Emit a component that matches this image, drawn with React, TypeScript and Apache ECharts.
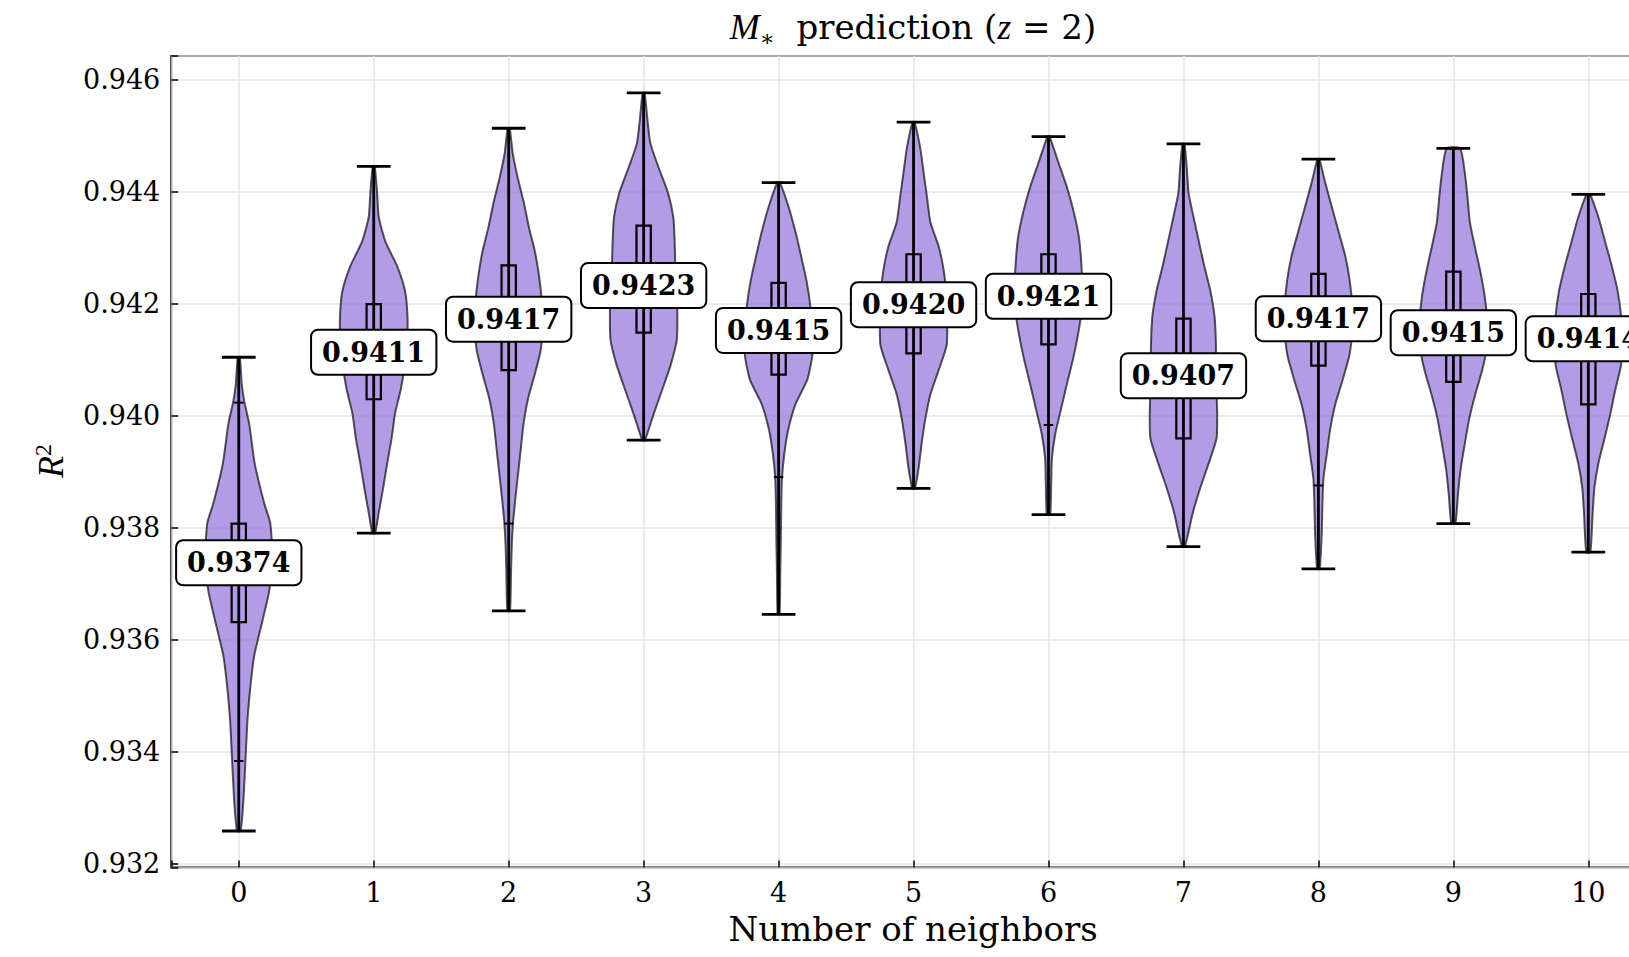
import React, { useEffect, useRef } from "react";
import * as echarts from "echarts";

// ---------- data ----------
const positions = [0, 1, 2, 3, 4, 5, 6, 7, 8, 9, 10];
const meanValues = [0.93737, 0.94113, 0.94172, 0.94232, 0.94152, 0.94198, 0.94213, 0.94071, 0.94173, 0.94148, 0.94137];
const meanLabels = ["0.9374", "0.9411", "0.9417", "0.9423", "0.9415", "0.9420", "0.9421", "0.9407", "0.9417", "0.9415", "0.9414"];
const maxValues = [0.94104, 0.94445, 0.94513, 0.94576, 0.94416, 0.94524, 0.94498, 0.94485, 0.94458, 0.94477, 0.94395];
const minValues = [0.93258, 0.9379, 0.93651, 0.93956, 0.93645, 0.9387, 0.93823, 0.93766, 0.93726, 0.93807, 0.93756];
const q3Values = [0.93807, 0.94199, 0.94268, 0.94339, 0.94237, 0.94288, 0.94288, 0.94173, 0.94253, 0.94257, 0.94217];
const q1Values = [0.93631, 0.94029, 0.94081, 0.94148, 0.94073, 0.94111, 0.94127, 0.93959, 0.94089, 0.9406, 0.9402];
const whiskerHigh = [0.94023, 0.94445, 0.94513, 0.94576, 0.94416, 0.94524, 0.94498, 0.94485, 0.94458, 0.94477, 0.94395];
const whiskerLow = [0.93383, 0.9379, 0.93807, 0.93956, 0.9389, 0.9387, 0.93983, 0.93766, 0.93875, 0.93807, 0.93756];

// violin outlines: [R² value, relative half-width (1 = widest)]
const profile0 = [[0.94104, 0.03], [0.94055, 0.09], [0.94023, 0.17], [0.93985, 0.31], [0.93915, 0.47], [0.93844, 0.75], [0.93809, 0.93], [0.93783, 0.97], [0.93739, 1.0], [0.93686, 0.9], [0.93633, 0.7], [0.93572, 0.46], [0.93519, 0.35], [0.93458, 0.26], [0.93387, 0.2], [0.93326, 0.15], [0.93282, 0.1], [0.93258, 0.05]];
const profile1 = [[0.94445, 0.03], [0.94398, 0.1], [0.94354, 0.15], [0.9431, 0.35], [0.94266, 0.7], [0.94222, 0.93], [0.94178, 1.0], [0.94134, 0.99], [0.9409, 0.92], [0.94046, 0.8], [0.94003, 0.63], [0.93959, 0.53], [0.93915, 0.4], [0.93871, 0.28], [0.93827, 0.15], [0.9379, 0.04]];
const profile2 = [[0.94513, 0.03], [0.94468, 0.12], [0.94424, 0.27], [0.9438, 0.45], [0.94336, 0.6], [0.94292, 0.78], [0.94249, 0.9], [0.94205, 0.98], [0.94161, 1.0], [0.94117, 0.95], [0.94073, 0.77], [0.94029, 0.57], [0.93985, 0.44], [0.93941, 0.36], [0.93897, 0.28], [0.93853, 0.2], [0.93809, 0.13], [0.93765, 0.09], [0.93721, 0.07], [0.93651, 0.04]];
const profile3 = [[0.94576, 0.03], [0.9453, 0.11], [0.94486, 0.2], [0.94442, 0.45], [0.94398, 0.72], [0.94354, 0.88], [0.9431, 0.92], [0.94266, 0.94], [0.94222, 0.98], [0.94178, 1.0], [0.94134, 0.98], [0.9409, 0.8], [0.94046, 0.55], [0.94003, 0.3], [0.93956, 0.04]];
const profile4 = [[0.94416, 0.04], [0.94372, 0.3], [0.94328, 0.5], [0.94284, 0.67], [0.9424, 0.83], [0.94196, 0.94], [0.94152, 0.99], [0.94108, 1.0], [0.94064, 0.85], [0.9402, 0.5], [0.93976, 0.29], [0.93932, 0.17], [0.93888, 0.1], [0.93844, 0.08], [0.93792, 0.07], [0.93721, 0.05], [0.93645, 0.03]];
const profile5 = [[0.94524, 0.03], [0.94477, 0.2], [0.94433, 0.3], [0.94389, 0.4], [0.94345, 0.5], [0.94301, 0.75], [0.94257, 0.9], [0.94213, 0.98], [0.94169, 1.0], [0.94125, 0.98], [0.94082, 0.75], [0.94038, 0.5], [0.93994, 0.35], [0.9395, 0.24], [0.93906, 0.15], [0.9387, 0.04]];
const profile6 = [[0.94498, 0.03], [0.94451, 0.3], [0.94407, 0.55], [0.94363, 0.75], [0.94319, 0.9], [0.94275, 0.97], [0.94231, 1.0], [0.94187, 0.98], [0.94143, 0.87], [0.94099, 0.72], [0.94055, 0.54], [0.94011, 0.37], [0.93967, 0.2], [0.93923, 0.1], [0.93879, 0.08], [0.93823, 0.05]];
const profile7 = [[0.94485, 0.03], [0.94442, 0.1], [0.94398, 0.15], [0.94354, 0.3], [0.9431, 0.46], [0.94266, 0.62], [0.94222, 0.8], [0.94178, 0.92], [0.94134, 0.96], [0.9409, 0.97], [0.94046, 0.98], [0.94003, 1.0], [0.93959, 0.98], [0.93915, 0.75], [0.93871, 0.5], [0.93827, 0.28], [0.93792, 0.15], [0.93766, 0.04]];
const profile8 = [[0.94458, 0.03], [0.94416, 0.2], [0.94372, 0.4], [0.94328, 0.6], [0.94284, 0.8], [0.9424, 0.93], [0.94196, 1.0], [0.94152, 1.0], [0.94108, 0.92], [0.94064, 0.72], [0.9402, 0.5], [0.93976, 0.35], [0.93932, 0.25], [0.93888, 0.15], [0.93844, 0.12], [0.93792, 0.1], [0.93726, 0.04]];
const profile9 = [[0.94477, 0.2], [0.94433, 0.34], [0.94389, 0.42], [0.94345, 0.49], [0.94301, 0.64], [0.94257, 0.8], [0.94213, 0.93], [0.94169, 1.0], [0.94125, 1.0], [0.94082, 0.86], [0.94038, 0.65], [0.93994, 0.47], [0.9395, 0.34], [0.93906, 0.22], [0.93862, 0.14], [0.93807, 0.06]];
const profile10 = [[0.94395, 0.05], [0.94354, 0.3], [0.9431, 0.5], [0.94266, 0.7], [0.94222, 0.87], [0.94178, 0.97], [0.94134, 1.0], [0.9409, 0.97], [0.94046, 0.8], [0.94002, 0.65], [0.93959, 0.48], [0.93915, 0.3], [0.93871, 0.18], [0.93827, 0.13], [0.93756, 0.06]];
const profiles = [profile0, profile1, profile2, profile3, profile4, profile5, profile6, profile7, profile8, profile9, profile10];

const yMin = 0.93193;
const yMax = 0.94642;
const xMin = -0.5;
const xMax = 10.5;

// ---------- styling ----------
const SERIF = '"DejaVu Serif", serif';
const VIOLIN_HALF = 0.25;
const CAP_HALF = 0.125;
const BOX_HALF = 0.053;
const WHISKER_HALF = 0.035;

export default function App() {
  const ref = useRef<HTMLDivElement>(null);

  useEffect(() => {
    if (!ref.current) return;
    const chart = echarts.init(ref.current, undefined, { renderer: "svg" });

    const renderItem = (params: any, api: any) => {
      const i = params.dataIndex;
      const x = api.value(0);
      const prof = profiles[i];
      const pt = (dx: number, v: number) => api.coord([x + dx, v]);
      const right = prof.map(([v, w]) => pt(w * VIOLIN_HALF, v));
      const left = prof.slice().reverse().map(([v, w]) => pt(-w * VIOLIN_HALF, v));
      const hline = (v: number, half: number, lw: number) => {
        const a = pt(-half, v);
        const b = pt(half, v);
        return {
          type: "line",
          shape: { x1: a[0], y1: a[1], x2: b[0], y2: b[1] },
          style: { stroke: "#000", lineWidth: lw },
        };
      };
      const top = pt(0, maxValues[i]);
      const bot = pt(0, minValues[i]);
      const bTL = pt(-BOX_HALF, q3Values[i]);
      const bBR = pt(BOX_HALF, q1Values[i]);
      const lab = pt(0, meanValues[i]);
      return {
        type: "group",
        children: [
          {
            type: "polygon",
            shape: { points: right.concat(left), smooth: 0.2 },
            style: { fill: "rgba(147,112,219,0.7)", stroke: "rgba(0,0,0,0.65)", lineWidth: 2 },
          },
          {
            type: "line",
            shape: { x1: top[0], y1: top[1], x2: bot[0], y2: bot[1] },
            style: { stroke: "#000", lineWidth: 2.8 },
          },
          hline(maxValues[i], CAP_HALF, 2.8),
          hline(minValues[i], CAP_HALF, 2.8),
          hline(whiskerHigh[i], WHISKER_HALF, 2),
          hline(whiskerLow[i], WHISKER_HALF, 2),
          {
            type: "rect",
            shape: { x: bTL[0], y: bTL[1], width: bBR[0] - bTL[0], height: bBR[1] - bTL[1] },
            style: { fill: "rgba(0,0,0,0)", stroke: "#000", lineWidth: 2.2 },
          },
          {
            type: "text",
            z2: 10,
            x: lab[0],
            y: lab[1],
            style: {
              text: meanLabels[i],
              align: "center",
              verticalAlign: "middle",
              fill: "#000",
              fontSize: 27,
              fontWeight: "bold",
              fontFamily: SERIF,
              backgroundColor: "#fff",
              borderColor: "#000",
              borderWidth: 2,
              borderRadius: 6,
              padding: [8, 10],
            },
          },
        ],
      };
    };

    const option: any = {
      animation: false,
      backgroundColor: "#fff",
      grid: {
        left: 171.3,
        top: 56,
        width: 1484.5,
        height: 811.4,
        containLabel: false,
        outerBoundsMode: "none",
        show: true,
        borderColor: "#000",
        borderWidth: 2,
        backgroundColor: "transparent",
      },
      xAxis: {
        type: "value",
        min: xMin,
        max: xMax,
        minInterval: 1,
        maxInterval: 1,
        axisLine: { show: false, onZero: false },
        axisTick: { show: true, inside: true, length: 7, lineStyle: { color: "#000", width: 1.5 } },
        axisLabel: {
          margin: 12,
          color: "#000",
          fontSize: 27,
          fontFamily: SERIF,
          formatter: (v: number) => (Math.abs(v - Math.round(v)) < 1e-6 ? String(Math.round(v)) : ""),
        },
        splitLine: { show: true, lineStyle: { color: "#e4e4e4", width: 1.5 } },
      },
      yAxis: {
        type: "value",
        min: yMin,
        max: yMax,
        minInterval: 0.002,
        maxInterval: 0.002,
        axisLine: { show: false, onZero: false },
        axisTick: { show: true, inside: true, length: 7, lineStyle: { color: "#000", width: 1.5 } },
        axisLabel: {
          margin: 11,
          color: "#000",
          fontSize: 27,
          fontFamily: SERIF,
          formatter: (v: number) =>
            Math.abs(v * 500 - Math.round(v * 500)) < 1e-6 ? v.toFixed(3) : "",
        },
        splitLine: { show: true, lineStyle: { color: "#e4e4e4", width: 1.5 } },
      },
      graphic: [
        {
          type: "text",
          x: 913,
          y: 27,
          style: {
            text: "{mi|M}{sub|∗}{n|  prediction (}{mi|z}{n| = 2)}",
            align: "center",
            verticalAlign: "middle",
            rich: {
              n: { fontSize: 34, fontFamily: SERIF, fill: "#000", lineHeight: 44 },
              mi: { fontSize: 36, fontFamily: '"Liberation Serif", serif', fontStyle: "italic", fill: "#000", lineHeight: 44 },
              sub: { fontSize: 22, fontFamily: SERIF, fill: "#000", lineHeight: 12, verticalAlign: "bottom" },
            },
          },
        },
        {
          type: "text",
          x: 913,
          y: 929,
          style: {
            text: "Number of neighbors",
            align: "center",
            verticalAlign: "middle",
            fontSize: 34,
            fontFamily: SERIF,
            fill: "#000",
          },
        },
        {
          type: "text",
          x: 51,
          y: 461,
          rotation: Math.PI / 2,
          style: {
            text: "{mi|R}{sup|2}",
            align: "center",
            verticalAlign: "middle",
            rich: {
              mi: { fontSize: 36, fontFamily: '"Liberation Serif", serif', fontStyle: "italic", fill: "#000", lineHeight: 40 },
              sup: { fontSize: 24, fontFamily: '"Liberation Serif", serif', fill: "#000", lineHeight: 20, verticalAlign: "top" },
            },
          },
        },
      ],
      series: [
        {
          type: "custom",
          coordinateSystem: "cartesian2d",
          renderItem,
          data: positions.map((p, i) => [p, meanValues[i]]),
          encode: { x: 0, y: 1 },
          z: 5,
        },
      ],
    };

    chart.setOption(option);
    return () => chart.dispose();
  }, []);

  return (
    <div
      ref={ref}
      style={{ position: "absolute", left: 0, top: 0, width: 1629, height: 957, background: "#fff" }}
    />
  );
}
